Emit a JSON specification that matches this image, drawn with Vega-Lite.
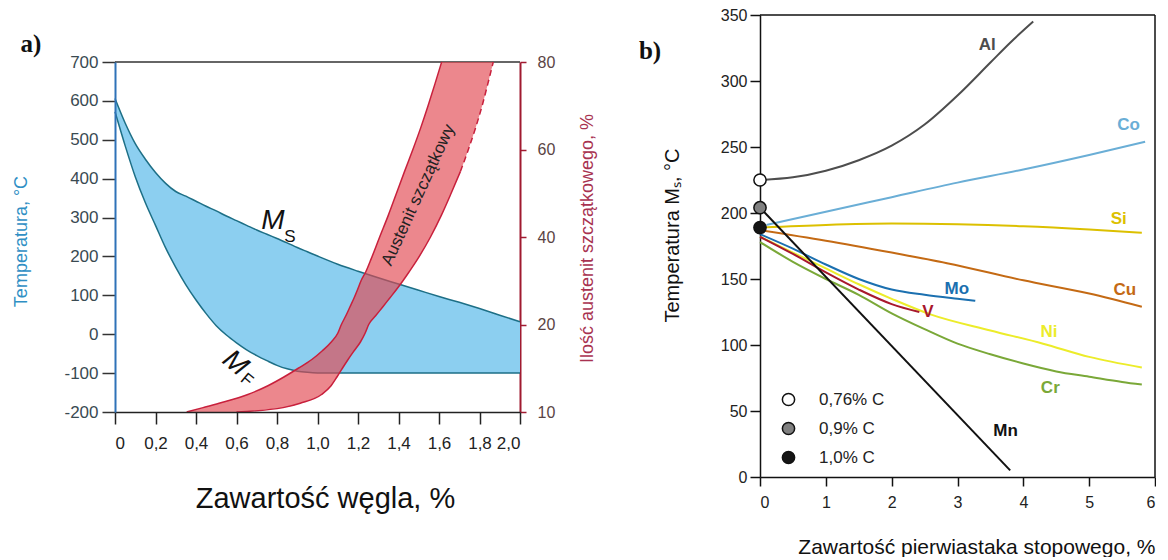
{
  "$schema": "https://vega.github.io/schema/vega-lite/v6.json",
  "padding": {"left": 12, "top": 7, "right": 0, "bottom": 0},
  "background": "white",
  "bounds": "flush",
  "spacing": 240,
  "config": {"view": {"stroke": null}, "font": "Liberation Sans", "axis": {"grid": false}},
  "datasets": {
    "band": [
      {"c": 0, "ms": 606, "mf": 572}, {"c": 0.05, "ms": 543, "mf": 485}, {"c": 0.1, "ms": 490, "mf": 405},
      {"c": 0.15, "ms": 450, "mf": 338}, {"c": 0.2, "ms": 416, "mf": 280}, {"c": 0.25, "ms": 388, "mf": 222},
      {"c": 0.3, "ms": 367, "mf": 172}, {"c": 0.35, "ms": 355, "mf": 127}, {"c": 0.4, "ms": 342, "mf": 88},
      {"c": 0.45, "ms": 329, "mf": 53}, {"c": 0.5, "ms": 317, "mf": 22}, {"c": 0.55, "ms": 304, "mf": -2},
      {"c": 0.6, "ms": 292, "mf": -22}, {"c": 0.65, "ms": 280, "mf": -40}, {"c": 0.7, "ms": 268, "mf": -55},
      {"c": 0.75, "ms": 257, "mf": -68}, {"c": 0.8, "ms": 246, "mf": -80}, {"c": 0.85, "ms": 235, "mf": -89},
      {"c": 0.9, "ms": 223, "mf": -95}, {"c": 0.95, "ms": 212, "mf": -98}, {"c": 1.0, "ms": 201, "mf": -99.5},
      {"c": 1.1, "ms": 180, "mf": -100}, {"c": 1.2, "ms": 162, "mf": -100}, {"c": 1.3, "ms": 145, "mf": -100},
      {"c": 1.4, "ms": 129, "mf": -100}, {"c": 1.5, "ms": 113, "mf": -100}, {"c": 1.6, "ms": 97, "mf": -100},
      {"c": 1.7, "ms": 82, "mf": -100}, {"c": 1.8, "ms": 66, "mf": -100}, {"c": 1.9, "ms": 49, "mf": -100},
      {"c": 2.0, "ms": 32, "mf": -100}
    ],
    "ra": [
      {"p": 10, "l": 0.354, "r": 0.6}, {"p": 10.5, "l": 0.435, "r": 0.83}, {"p": 11, "l": 0.514, "r": 0.915},
      {"p": 12, "l": 0.656, "r": 1.02}, {"p": 13, "l": 0.755, "r": 1.067}, {"p": 14, "l": 0.834, "r": 1.096},
      {"p": 15, "l": 0.905, "r": 1.123}, {"p": 16, "l": 0.972, "r": 1.151}, {"p": 17, "l": 1.024, "r": 1.181},
      {"p": 18, "l": 1.068, "r": 1.212}, {"p": 19, "l": 1.1, "r": 1.235}, {"p": 20, "l": 1.118, "r": 1.253},
      {"p": 22, "l": 1.14, "r": 1.287}, {"p": 24, "l": 1.16, "r": 1.322}, {"p": 26, "l": 1.18, "r": 1.356},
      {"p": 28, "l": 1.198, "r": 1.39}, {"p": 30, "l": 1.215, "r": 1.422}, {"p": 32, "l": 1.238, "r": 1.452},
      {"p": 35, "l": 1.265, "r": 1.495}, {"p": 40, "l": 1.307, "r": 1.558}, {"p": 45, "l": 1.35, "r": 1.612},
      {"p": 50, "l": 1.39, "r": 1.66}, {"p": 55, "l": 1.43, "r": 1.706}, {"p": 60, "l": 1.471, "r": 1.745},
      {"p": 65, "l": 1.51, "r": 1.781}, {"p": 70, "l": 1.546, "r": 1.813}, {"p": 75, "l": 1.58, "r": 1.841},
      {"p": 80, "l": 1.613, "r": 1.868}
    ],
    "alloys": [
      {"el": "Al", "x": 0, "y": 225}, {"el": "Al", "x": 0.5, "y": 227}, {"el": "Al", "x": 1, "y": 232},
      {"el": "Al", "x": 1.5, "y": 240}, {"el": "Al", "x": 2, "y": 251}, {"el": "Al", "x": 2.5, "y": 267},
      {"el": "Al", "x": 3, "y": 289}, {"el": "Al", "x": 3.5, "y": 314}, {"el": "Al", "x": 3.8, "y": 329},
      {"el": "Al", "x": 4.15, "y": 345},
      {"el": "Co", "x": 0.1, "y": 191}, {"el": "Co", "x": 1, "y": 201}, {"el": "Co", "x": 2, "y": 212},
      {"el": "Co", "x": 3, "y": 223}, {"el": "Co", "x": 4, "y": 233}, {"el": "Co", "x": 5, "y": 244},
      {"el": "Co", "x": 5.85, "y": 254},
      {"el": "Si", "x": 0, "y": 189}, {"el": "Si", "x": 1, "y": 191}, {"el": "Si", "x": 2, "y": 192},
      {"el": "Si", "x": 3, "y": 191.5}, {"el": "Si", "x": 4, "y": 190}, {"el": "Si", "x": 5, "y": 187.5},
      {"el": "Si", "x": 5.8, "y": 185},
      {"el": "Cu", "x": 0, "y": 187}, {"el": "Cu", "x": 1, "y": 179}, {"el": "Cu", "x": 2, "y": 170},
      {"el": "Cu", "x": 2.84, "y": 162}, {"el": "Cu", "x": 4, "y": 149}, {"el": "Cu", "x": 5, "y": 139},
      {"el": "Cu", "x": 5.8, "y": 129},
      {"el": "Mo", "x": 0, "y": 184}, {"el": "Mo", "x": 0.5, "y": 173}, {"el": "Mo", "x": 1, "y": 161},
      {"el": "Mo", "x": 1.5, "y": 150}, {"el": "Mo", "x": 2, "y": 142}, {"el": "Mo", "x": 2.5, "y": 138},
      {"el": "Mo", "x": 3, "y": 135}, {"el": "Mo", "x": 3.27, "y": 133.5},
      {"el": "Ni", "x": 0, "y": 182}, {"el": "Ni", "x": 0.5, "y": 170}, {"el": "Ni", "x": 1, "y": 158},
      {"el": "Ni", "x": 1.5, "y": 146}, {"el": "Ni", "x": 2, "y": 135}, {"el": "Ni", "x": 2.6, "y": 123},
      {"el": "Ni", "x": 3.5, "y": 111}, {"el": "Ni", "x": 4.3, "y": 101}, {"el": "Ni", "x": 5, "y": 91},
      {"el": "Ni", "x": 5.8, "y": 83},
      {"el": "V", "x": 0, "y": 182}, {"el": "V", "x": 0.5, "y": 169}, {"el": "V", "x": 1, "y": 155},
      {"el": "V", "x": 1.5, "y": 142}, {"el": "V", "x": 2, "y": 131}, {"el": "V", "x": 2.42, "y": 125},
      {"el": "Cr", "x": 0, "y": 178}, {"el": "Cr", "x": 0.5, "y": 163}, {"el": "Cr", "x": 1, "y": 150},
      {"el": "Cr", "x": 1.5, "y": 138}, {"el": "Cr", "x": 2, "y": 124}, {"el": "Cr", "x": 2.5, "y": 112},
      {"el": "Cr", "x": 3, "y": 101}, {"el": "Cr", "x": 3.5, "y": 93}, {"el": "Cr", "x": 4, "y": 86},
      {"el": "Cr", "x": 4.5, "y": 80}, {"el": "Cr", "x": 5, "y": 76}, {"el": "Cr", "x": 5.5, "y": 72},
      {"el": "Cr", "x": 5.8, "y": 70},
      {"el": "Mn", "x": 0, "y": 204}, {"el": "Mn", "x": 3.8, "y": 5}
    ],
    "points": [
      {"c": "0,76% C", "x": 0, "y": 225},
      {"c": "0,9% C", "x": 0, "y": 204},
      {"c": "1,0% C", "x": 0, "y": 189}
    ],
    "labelsB": [
      {"el": "Al", "x": 3.45, "y": 327}, {"el": "Co", "x": 5.6, "y": 267}, {"el": "Si", "x": 5.45, "y": 195.5},
      {"el": "Cu", "x": 5.54, "y": 141.5}, {"el": "Mo", "x": 2.99, "y": 142.5}, {"el": "V", "x": 2.55, "y": 125},
      {"el": "Ni", "x": 4.39, "y": 109.7}, {"el": "Cr", "x": 4.41, "y": 67.6}, {"el": "Mn", "x": 3.73, "y": 34.5}
    ]
  },
  "hconcat": [
    {
      "width": 405,
      "height": 397,
      "resolve": {"scale": {"y": "independent"}},
      "layer": [
        {
          "layer": [
            {
              "data": {"name": "band"},
              "mark": {"type": "area", "color": "#8ccff0", "interpolate": "monotone"},
              "encoding": {
                "x": {"field": "c", "type": "quantitative", "title": "Zawartość węgla, %",
                  "scale": {"domain": [0, 2], "nice": false},
                  "axis": {"values": [0, 0.2, 0.4, 0.6, 0.8, 1, 1.2, 1.4, 1.6, 1.8, 2],
                    "labelExpr": "datum.value == 0 ? '0' : replace(format(datum.value, '.1f'), '.', ',')",
                    "domainColor": "#222", "domainWidth": 1.5, "tickColor": "#222", "tickWidth": 1.5, "tickSize": 12,
                    "labelFontSize": 17, "labelColor": "#222", "labelPadding": 11,
                    "titleFontSize": 29, "titleFontWeight": "normal", "titleColor": "#111",
                    "titleX": 210, "titleY": 95, "titleBaseline": "alphabetic", "titleAlign": "center", "zindex": 1}},
                "y": {"field": "ms", "type": "quantitative", "title": "Temperatura, °C",
                  "scale": {"domain": [-200, 700], "range": [397, 47], "nice": false, "zero": false},
                  "axis": {"values": [-200, -100, 0, 100, 200, 300, 400, 500, 600, 700],
                    "labelExpr": "'' + datum.value",
                    "domainColor": "#2f72b8", "domainWidth": 2, "tickColor": "#333", "tickWidth": 1.5, "tickSize": 13,
                    "labelFontSize": 17, "labelColor": "#3a4a52", "labelPadding": 4,
                    "titleFontSize": 18, "titleFontWeight": "normal", "titleColor": "#2f8fc4",
                    "titleAngle": 270, "titleX": -94, "titleY": 226, "titleBaseline": "middle", "titleAlign": "center", "zindex": 1}},
                "y2": {"field": "mf"}
              }
            },
            {
              "data": {"name": "band"},
              "mark": {"type": "line", "color": "#1d6f86", "strokeWidth": 1.5, "interpolate": "monotone"},
              "encoding": {
                "x": {"field": "c", "type": "quantitative", "title": "Zawartość węgla, %"},
                "y": {"field": "ms", "type": "quantitative", "title": "Temperatura, °C"}
              }
            },
            {
              "data": {"name": "band"},
              "mark": {"type": "line", "color": "#1d6f86", "strokeWidth": 1.5, "interpolate": "monotone"},
              "encoding": {
                "x": {"field": "c", "type": "quantitative", "title": "Zawartość węgla, %"},
                "y": {"field": "mf", "type": "quantitative", "title": "Temperatura, °C"}
              }
            },
            {
              "data": {"values": [{}]},
              "mark": {"type": "rule", "color": "#333", "strokeWidth": 1.5},
              "encoding": {"y": {"datum": 700, "type": "quantitative", "title": "Temperatura, °C"}}
            }
          ]
        },
        {
          "layer": [
            {
              "data": {"name": "ra"},
              "mark": {"type": "area", "orient": "horizontal", "color": "#e24650", "opacity": 0.65, "interpolate": "monotone"},
              "encoding": {
                "y": {"field": "p", "type": "quantitative", "title": "Ilość austenit szczątkowego, %",
                  "scale": {"domain": [10, 20, 40, 60, 80], "range": [397, 309.5, 222, 134.5, 47], "nice": false, "zero": false},
                  "axis": {"orient": "right", "values": [10, 20, 40, 60, 80],
                    "domainColor": "#a01a30", "domainWidth": 2, "tickColor": "#a01a30", "tickWidth": 1.5, "tickSize": 6,
                    "labelFontSize": 16, "labelColor": "#5a4444", "labelPadding": 11,
                    "titleFontSize": 18, "titleFontWeight": "normal", "titleColor": "#a83250",
                    "titleAngle": 270, "titleX": 67, "titleY": 223, "titleBaseline": "middle", "titleAlign": "center"}},
                "x": {"field": "l", "type": "quantitative", "title": "Zawartość węgla, %"},
                "x2": {"field": "r"}
              }
            },
            {
              "data": {"name": "ra"},
              "mark": {"type": "line", "color": "#c8203c", "strokeWidth": 1.5, "interpolate": "monotone"},
              "encoding": {
                "y": {"field": "p", "type": "quantitative", "title": "Ilość austenit szczątkowego, %"},
                "x": {"field": "l", "type": "quantitative", "title": "Zawartość węgla, %"}
              }
            },
            {
              "data": {"name": "ra"},
              "transform": [{"filter": "datum.p <= 55"}],
              "mark": {"type": "line", "color": "#c8203c", "strokeWidth": 1.5, "interpolate": "monotone"},
              "encoding": {
                "y": {"field": "p", "type": "quantitative", "title": "Ilość austenit szczątkowego, %"},
                "x": {"field": "r", "type": "quantitative", "title": "Zawartość węgla, %"}
              }
            },
            {
              "data": {"name": "ra"},
              "transform": [{"filter": "datum.p >= 55"}],
              "mark": {"type": "line", "color": "#c8203c", "strokeWidth": 1.5, "strokeDash": [6, 4], "interpolate": "monotone"},
              "encoding": {
                "y": {"field": "p", "type": "quantitative", "title": "Ilość austenit szczątkowego, %"},
                "x": {"field": "r", "type": "quantitative", "title": "Zawartość węgla, %"}
              }
            }
          ]
        },
        {
          "layer": [
            {
              "data": {"values": [{"t": "a)", "x": -0.415, "T": 746}]},
              "mark": {"type": "text", "font": "Liberation Serif", "fontWeight": "bold", "fontSize": 25, "color": "#111"},
              "encoding": {
                "x": {"field": "x", "type": "quantitative", "title": "Zawartość węgla, %"},
                "y": {"field": "T", "type": "quantitative", "scale": {"domain": [-200, 700], "range": [397, 47], "nice": false, "zero": false}, "axis": null},
                "text": {"field": "t"}
              }
            },
            {
              "data": {"values": [{"t": "M", "x": 0.78, "T": 292}]},
              "mark": {"type": "text", "fontStyle": "italic", "fontSize": 28, "color": "#111"},
              "encoding": {
                "x": {"field": "x", "type": "quantitative", "title": "Zawartość węgla, %"},
                "y": {"field": "T", "type": "quantitative", "axis": null},
                "text": {"field": "t"}
              }
            },
            {
              "data": {"values": [{"t": "S", "x": 0.864, "T": 251}]},
              "mark": {"type": "text", "fontSize": 17, "color": "#111"},
              "encoding": {
                "x": {"field": "x", "type": "quantitative", "title": "Zawartość węgla, %"},
                "y": {"field": "T", "type": "quantitative", "axis": null},
                "text": {"field": "t"}
              }
            },
            {
              "data": {"values": [{"t": "M", "x": 0.593, "T": -75}]},
              "mark": {"type": "text", "fontStyle": "italic", "fontSize": 28, "color": "#111", "angle": 40},
              "encoding": {
                "x": {"field": "x", "type": "quantitative", "title": "Zawartość węgla, %"},
                "y": {"field": "T", "type": "quantitative", "axis": null},
                "text": {"field": "t"}
              }
            },
            {
              "data": {"values": [{"t": "F", "x": 0.65, "T": -118}]},
              "mark": {"type": "text", "fontSize": 17, "color": "#111", "angle": 40},
              "encoding": {
                "x": {"field": "x", "type": "quantitative", "title": "Zawartość węgla, %"},
                "y": {"field": "T", "type": "quantitative", "axis": null},
                "text": {"field": "t"}
              }
            },
            {
              "data": {"values": [{"t": "Austenit szczątkowy", "x": 1.498, "T": 358}]},
              "mark": {"type": "text", "fontSize": 17, "color": "#222", "angle": 294.6},
              "encoding": {
                "x": {"field": "x", "type": "quantitative", "title": "Zawartość węgla, %"},
                "y": {"field": "T", "type": "quantitative", "axis": null},
                "text": {"field": "t"}
              }
            }
          ]
        }
      ]
    },
    {
      "width": 395,
      "height": 462,
      "layer": [
        {
          "data": {"name": "alloys"},
          "mark": {"type": "line", "strokeWidth": 2, "interpolate": "monotone"},
          "encoding": {
            "x": {"field": "x", "type": "quantitative", "title": "Zawartość pierwiastaka stopowego, %",
              "scale": {"domain": [0, 6], "nice": false},
              "axis": {"values": [0, 1, 2, 3, 4, 5, 6], "format": "d", "domainColor": "#111", "domainWidth": 1.5, "tickColor": "#111", "tickWidth": 1.5, "tickSize": 9,
                "labelFontSize": 16, "labelColor": "#222", "labelPadding": 8,
                "titleFontSize": 21, "titleFontWeight": "normal", "titleColor": "#111",
                "titleX": 395, "titleY": 76, "titleAlign": "right", "titleBaseline": "alphabetic"}},
            "y": {"field": "y", "type": "quantitative", "title": "Temperatura Mₛ, °C",
              "scale": {"domain": [0, 350], "nice": false},
              "axis": {"values": [0, 50, 100, 150, 200, 250, 300, 350], "format": "d", "domainColor": "#111", "domainWidth": 1.5, "tickColor": "#111", "tickWidth": 1.5, "tickSize": 10,
                "labelFontSize": 16, "labelColor": "#222", "labelPadding": 3,
                "titleFontSize": 20, "titleFontWeight": "normal", "titleColor": "#111",
                "titleAngle": 270, "titleX": -88, "titleY": 220, "titleBaseline": "middle", "titleAlign": "center"}},
            "color": {"field": "el", "type": "nominal",
              "scale": {"domain": ["Al", "Co", "Si", "Cu", "Mo", "Ni", "V", "Cr", "Mn"],
                "range": ["#4d4d4d", "#6aaed6", "#dcc000", "#c46a14", "#1b70b0", "#ecec2a", "#a8182c", "#7aa838", "#111111"]},
              "legend": null}
          }
        },
        {
          "data": {"values": [{}]},
          "mark": {"type": "rule", "color": "#111", "strokeWidth": 1.5},
          "encoding": {"y": {"datum": 350, "type": "quantitative", "title": "Temperatura Mₛ, °C"}}
        },
        {
          "data": {"values": [{}]},
          "mark": {"type": "rule", "color": "#111", "strokeWidth": 1.5},
          "encoding": {"x": {"datum": 6, "type": "quantitative", "title": "Zawartość pierwiastaka stopowego, %"}}
        },
        {
          "data": {"name": "points"},
          "mark": {"type": "point", "filled": true, "size": 150, "stroke": "#111", "strokeWidth": 1.5, "opacity": 1},
          "encoding": {
            "x": {"field": "x", "type": "quantitative", "title": "Zawartość pierwiastaka stopowego, %"},
            "y": {"field": "y", "type": "quantitative", "title": "Temperatura Mₛ, °C"},
            "fill": {"field": "c", "type": "nominal",
              "scale": {"domain": ["0,76% C", "0,9% C", "1,0% C"], "range": ["#ffffff", "#808080", "#151515"]},
              "legend": {"orient": "none", "legendX": 665, "legendY": 376, "title": null, "padding": 0,
                "labelFontSize": 17, "labelColor": "#222", "symbolType": "circle", "symbolSize": 150,
                "symbolStrokeColor": "#111", "symbolStrokeWidth": 1.5, "rowPadding": 10, "labelOffset": 22}}
          }
        },
        {
          "data": {"name": "labelsB"},
          "mark": {"type": "text", "fontSize": 17, "fontWeight": "bold"},
          "encoding": {
            "x": {"field": "x", "type": "quantitative", "title": "Zawartość pierwiastaka stopowego, %"},
            "y": {"field": "y", "type": "quantitative", "title": "Temperatura Mₛ, °C"},
            "text": {"field": "el"},
            "color": {"field": "el", "type": "nominal", "legend": null}
          }
        },
        {
          "data": {"values": [{"t": "b)", "x": -1.67, "y": 323}]},
          "mark": {"type": "text", "font": "Liberation Serif", "fontWeight": "bold", "fontSize": 25, "color": "#111"},
          "encoding": {
            "x": {"field": "x", "type": "quantitative", "title": "Zawartość pierwiastaka stopowego, %"},
            "y": {"field": "y", "type": "quantitative", "title": "Temperatura Mₛ, °C"},
            "text": {"field": "t"}
          }
        }
      ]
    }
  ]
}
